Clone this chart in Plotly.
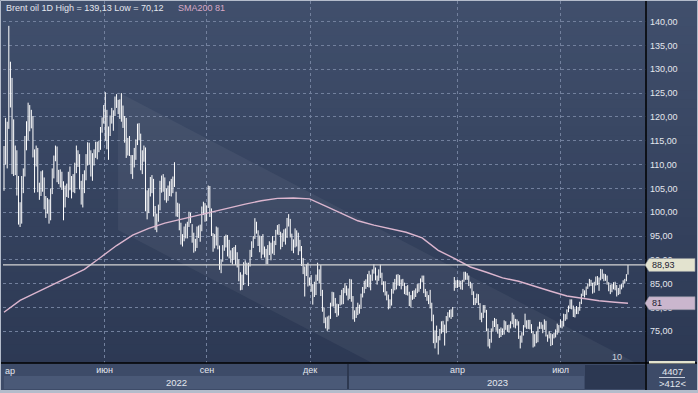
import plotly.graph_objects as go

# ---------------- data (daily bars, Mar 2 2022 .. Sep 1 2023) ----------------
bar_high = [
    # 2022-03
    113.9, 119.8, 119.0, 139.13, 131.6, 128.2, 119.5, 114.0, 113.0, 107.6, 102.1, 107.6, 109.2, 116.0, 119.1, 123.0, 122.5, 121.5, 120.2, 113.2, 114.0, 113.5,
    # 2022-04
    106.2, 108.6, 108.8, 107.3, 103.4, 103.0, 102.7, 105.0, 109.2, 111.9, 114.0, 113.8, 108.9, 109.0, 108.5, 106.5, 105.6, 106.0, 108.5, 109.6,
    # 2022-05
    107.6, 108.0, 110.4, 114.0, 113.0, 112.2, 106.6, 108.0, 108.8, 112.2, 114.7, 114.6, 113.0, 112.4, 113.2, 114.8, 114.8, 115.0, 117.9, 119.9, 122.5, 125.2,
    # 2022-06
    121.5, 118.0, 120.3, 121.9, 121.4, 124.3, 124.8, 123.6, 123.7, 125.0, 122.4, 120.2, 119.8, 115.6, 116.0, 112.0, 112.0, 113.5, 115.3, 118.6, 118.7, 116.5,
    # 2022-07
    113.0, 114.0, 113.6, 104.6, 105.0, 107.4, 107.8, 107.0, 101.3, 99.7, 101.6, 106.6, 107.7, 108.0, 107.3, 105.0, 105.6, 106.5, 107.0, 107.5, 110.5,
    # 2022-08
    104.3, 102.0, 101.8, 97.8, 95.4, 97.0, 97.6, 98.0, 100.1, 99.9, 97.5, 95.7, 94.4, 97.0, 97.2, 97.4, 101.2, 102.2, 101.9, 101.4, 105.6, 105.5, 100.8,
    # 2022-09
    95.6, 95.4, 97.0, 96.8, 93.0, 90.0, 93.1, 95.0, 95.3, 95.2, 94.2, 92.0, 92.5, 92.7, 93.1, 91.6, 90.1, 87.4, 86.9, 89.5, 89.9, 89.4,
    # 2022-10
    89.4, 92.1, 93.9, 95.0, 98.75, 98.0, 96.2, 95.1, 95.0, 95.4, 92.8, 92.3, 93.1, 93.9, 93.6, 95.0, 94.0, 96.3, 97.3, 97.5, 95.9,
    # 2022-11
    95.6, 96.4, 96.6, 98.8, 99.6, 98.6, 95.5, 94.3, 96.6, 96.2, 95.7, 94.2, 92.9, 90.4, 88.6, 89.1, 89.4, 86.3, 86.8, 84.9, 85.4, 86.9,
    # 2022-12
    89.4, 88.0, 88.9, 83.7, 80.0, 77.9, 78.1, 78.3, 81.0, 83.3, 83.2, 82.0, 80.8, 80.7, 82.6, 83.7, 84.1, 85.1, 84.6, 84.0, 86.0,
    # 2023-01
    85.9, 82.4, 79.4, 80.1, 81.0, 80.6, 82.9, 84.3, 85.6, 85.9, 87.0, 87.7, 86.9, 88.0, 89.1, 88.4, 86.7, 88.0, 89.0, 87.3, 85.5,
    # 2023-02
    85.5, 83.4, 82.7, 81.7, 83.9, 85.3, 86.0, 86.9, 87.0, 86.8, 85.9, 86.0, 85.2, 84.5, 84.7, 83.3, 82.6, 83.5, 83.6, 84.0,
    # 2023-03
    84.9, 85.0, 86.1, 86.7, 86.7, 83.9, 83.4, 82.6, 83.7, 81.0, 78.5, 75.2, 76.2, 74.0, 75.5, 77.1, 77.2, 76.4, 78.2, 79.0, 79.5, 79.6, 80.1,
    # 2023-04
    86.4, 85.7, 85.8, 85.7, 85.6, 85.8, 87.5, 87.5, 87.2, 86.7, 85.4, 85.0, 83.4, 82.0, 82.9, 82.8, 80.9, 78.9, 80.5,
    # 2023-05
    80.5, 79.5, 75.6, 73.4, 75.6, 77.2, 77.8, 77.6, 76.5, 75.5, 75.8, 75.6, 77.3, 77.1, 76.3, 76.4, 77.1, 78.9, 78.5, 77.6, 77.5, 77.1, 74.1,
    # 2023-06
    74.8, 76.3, 78.7, 77.3, 77.4, 77.4, 76.5, 75.0, 74.4, 75.0, 76.0, 77.0, 76.9, 76.4, 77.5, 77.2, 74.3, 75.0, 74.6, 74.4, 74.7, 75.4,
    # 2023-07
    76.6, 76.3, 77.5, 77.2, 78.7, 78.6, 79.6, 80.4, 81.7, 81.7, 80.4, 79.8, 80.3, 80.1, 81.2, 82.9, 83.9, 83.6, 84.4, 85.0, 86.0,
    # 2023-08 + Sep 1
    85.8, 85.2, 85.4, 86.5, 86.6, 86.3, 88.1, 88.0, 87.1, 87.0, 86.7, 85.3, 84.8, 84.9, 85.3, 85.4, 84.7, 84.1, 84.8, 84.9, 85.7, 86.0, 87.0, 88.93,
]
bar_low = [
    # 2022-03
    104.5, 110.0, 109.2, 117.5, 122.0, 108.0, 107.6, 107.8, 103.5, 97.4, 96.9, 97.6, 104.0, 107.5, 113.0, 115.1, 117.0, 117.6, 111.5, 104.1, 109.6, 104.2,
    # 2022-04
    102.6, 103.4, 104.3, 100.6, 98.8, 99.7, 97.6, 98.3, 103.8, 107.1, 110.7, 106.3, 105.9, 105.2, 104.7, 98.3, 101.0, 103.2, 103.0, 104.6,
    # 2022-05
    102.9, 104.2, 104.0, 108.2, 109.5, 104.8, 101.6, 101.0, 104.0, 106.7, 109.8, 110.0, 107.5, 106.6, 109.8, 111.4, 111.1, 112.6, 113.1, 116.7, 118.6, 115.0,
    # 2022-06
    113.2, 111.0, 116.0, 118.6, 117.1, 120.2, 121.9, 120.6, 119.6, 119.0, 117.7, 114.6, 111.4, 111.9, 111.8, 108.0, 107.0, 109.4, 111.0, 114.1, 115.1, 108.8,
    # 2022-07
    108.0, 110.6, 100.2, 98.5, 99.8, 103.3, 104.0, 99.1, 96.3, 95.8, 98.0, 100.4, 104.1, 104.3, 102.5, 102.0, 102.4, 103.4, 103.3, 104.0, 105.3,
    # 2022-08
    99.1, 99.0, 96.2, 93.2, 92.8, 93.9, 94.5, 94.5, 96.9, 97.7, 93.6, 91.5, 91.8, 92.5, 94.6, 93.8, 96.0, 99.4, 98.0, 98.1, 100.9, 99.0, 95.0,
    # 2022-09
    91.7, 92.4, 93.0, 92.2, 87.9, 87.2, 89.6, 91.9, 92.6, 90.7, 90.3, 89.4, 89.0, 90.0, 88.9, 88.4, 85.5, 83.6, 83.7, 84.7, 87.0, 86.8,
    # 2022-10
    84.5, 88.6, 90.6, 92.5, 94.4, 95.5, 92.9, 91.6, 90.3, 91.1, 90.5, 89.1, 89.1, 91.0, 89.9, 91.3, 91.0, 93.1, 95.3, 95.2, 92.2,
    # 2022-11
    92.7, 93.8, 93.2, 94.6, 97.0, 94.7, 91.9, 91.4, 92.6, 92.8, 91.0, 91.8, 88.7, 87.0, 82.3, 86.6, 84.4, 84.6, 83.3, 80.6, 82.2, 82.6,
    # 2022-12
    85.6, 85.0, 82.4, 79.1, 76.7, 75.6, 75.1, 75.4, 77.6, 80.2, 80.2, 78.8, 78.0, 78.3, 80.4, 80.6, 80.7, 83.0, 82.5, 81.5, 81.8,
    # 2023-01
    81.2, 77.5, 77.0, 77.8, 78.4, 78.7, 79.7, 82.1, 83.0, 83.9, 84.3, 84.2, 83.6, 85.6, 87.1, 85.7, 84.8, 85.6, 86.2, 84.7, 83.2,
    # 2023-02
    82.5, 81.5, 79.6, 79.8, 80.4, 82.9, 83.6, 83.8, 84.6, 84.5, 83.8, 84.5, 82.8, 82.6, 82.5, 80.3, 80.0, 81.6, 81.8, 82.2,
    # 2023-03
    83.0, 83.3, 83.9, 85.3, 83.0, 82.2, 81.4, 80.7, 79.8, 77.1, 72.5, 71.4, 72.6, 70.12, 73.1, 74.5, 74.8, 72.0, 74.6, 77.1, 77.9, 77.6, 78.0,
    # 2023-04
    83.5, 84.1, 84.1, 84.3, 83.8, 83.7, 85.4, 85.8, 85.8, 84.5, 84.0, 82.6, 80.5, 80.5, 80.9, 80.5, 77.4, 76.9, 77.8,
    # 2023-05
    78.9, 75.0, 71.8, 71.4, 72.6, 74.9, 75.9, 75.1, 74.5, 73.6, 73.8, 74.2, 74.3, 75.3, 74.9, 74.7, 75.6, 76.5, 75.8, 75.6, 76.2, 73.4, 71.4,
    # 2023-06
    72.6, 74.1, 75.8, 75.5, 75.5, 75.4, 74.6, 71.6, 71.8, 72.5, 72.7, 75.5, 75.5, 74.6, 75.3, 73.9, 72.8, 73.5, 71.9, 72.1, 73.5, 73.7,
    # 2023-07
    74.3, 74.7, 75.8, 75.6, 76.0, 77.2, 77.5, 79.0, 79.7, 79.6, 78.0, 77.9, 78.6, 78.6, 79.3, 80.7, 82.4, 82.1, 82.6, 83.9, 84.4,
    # 2023-08 + Sep 1
    84.5, 82.9, 83.1, 84.6, 84.7, 83.5, 85.7, 86.0, 85.5, 85.6, 84.8, 83.4, 82.8, 83.2, 83.8, 83.6, 82.3, 82.6, 82.8, 83.8, 84.2, 85.0, 85.5, 86.9,
]

# SMA200 (bar index, value)
sma_idx = [0, 10, 20, 30, 40, 50, 60, 70, 80, 90, 100, 110, 120, 130, 140, 150, 160, 170, 180, 190,
           200, 210, 220, 230, 240, 250, 260, 270, 280, 290, 300, 310, 320, 330, 340, 350, 360, 370, 380, 388]
sma_val = [79.0, 81.5, 83.1, 84.7, 86.4, 88.0, 90.5, 93.0, 95.2, 96.6, 97.7, 98.5, 99.3, 100.1, 101.0, 101.7, 102.4, 102.9, 103.0, 102.8,
           101.3, 99.7, 98.2, 97.3, 96.6, 95.8, 94.6, 92.0, 90.3, 88.5, 87.4, 86.2, 85.5, 84.4, 83.4, 82.4, 81.9, 81.4, 81.1, 80.9]

# axis ticks
month_labels = ["июн", "сен", "дек", "апр", "июл"]
month_pos = [62.5, 126.2, 190.3, 282.0, 346.1]
year_labels = ["2022", "2023"]
year_pos = [107.0, 306.6]
price_ticks = [75, 80, 85, 90, 95, 100, 105, 110, 115, 120, 125, 130, 135, 140]

# descending channel drawn on the chart
channel_x = [70.9, 399.2]
channel_top_start = 125.24
channel_slope = -0.1767
channel_height = 28.97
channel_label = "10"

counter_top, counter_bottom = "4407", ">412<"

# ---------------- layout geometry ----------------
W, H = 698, 393
ML, MR, MT, MB = 3, 52, 1, 30
PW, PH = W - ML - MR, H - MT - MB
X_RANGE = [-0.62, 399.2]
Y_RANGE = [68.34, 144.35]


def px(xp):
    return (xp - ML) / PW


def py(yp):
    return (H - MB - yp) / PH


def vy(v):
    return (v - Y_RANGE[0]) / (Y_RANGE[1] - Y_RANGE[0])


def fmt(v):
    return f"{v:.2f}".replace(".", ",")


FONT = "Liberation Sans, Arial, sans-serif"
TXT = "#e4e7ee"

fig = go.Figure()

# price bars (high-low)
xs, ys = [], []
for i, (h, l) in enumerate(zip(bar_high, bar_low)):
    xs += [i, i, None]
    ys += [l, h, None]
fig.add_trace(go.Scatter(x=xs, y=ys, mode="lines", line=dict(color="#ffffff", width=1.0),
                         hoverinfo="skip", showlegend=False))

# SMA200
fig.add_trace(go.Scatter(x=sma_idx, y=sma_val, mode="lines", line=dict(color="#dcb6cf", width=1.4),
                         hoverinfo="skip", showlegend=False))

shapes = []
# background gradient
n = 40
top_c = (64, 79, 108)
bot_c = (45, 57, 84)
for k in range(n):
    t = k / (n - 1)
    c = tuple(round(top_c[j] + (bot_c[j] - top_c[j]) * t) for j in range(3))
    y1 = 1.005 - k * (1.005 / n)
    y0 = y1 - 1.005 / n - 0.002
    shapes.append(dict(type="rect", xref="paper", yref="paper", x0=px(0), x1=px(W), y0=max(y0, 0), y1=y1,
                       fillcolor=f"rgb{c}", line=dict(width=0), layer="below"))

# bottom axis bands
shapes.append(dict(type="rect", xref="paper", yref="paper", x0=px(4), x1=px(347), y0=py(389), y1=py(376),
                   fillcolor="#4a5977", line=dict(width=0), layer="below"))
shapes.append(dict(type="rect", xref="paper", yref="paper", x0=px(349), x1=px(584), y0=py(389), y1=py(376),
                   fillcolor="#4a5977", line=dict(width=0), layer="below"))
shapes.append(dict(type="rect", xref="paper", yref="paper", x0=px(585), x1=px(645), y0=py(389), y1=py(365),
                   fillcolor="#2c3852", line=dict(width=0), layer="below"))

# channel
cx0, cx1 = channel_x
t0 = channel_top_start
t1 = channel_top_start + channel_slope * (cx1 - cx0)
shapes.append(dict(type="path", xref="x", yref="y",
                   path=f"M {cx0},{t0} L {cx1},{t1} L {cx1},{t1 - channel_height} L {cx0},{t0 - channel_height} Z",
                   fillcolor="rgba(255,255,255,0.05)", line=dict(width=0), layer="between"))

# last price line
last_price = bar_high[-1]
shapes.append(dict(type="line", xref="paper", yref="y", x0=0, x1=1, y0=last_price, y1=last_price,
                   line=dict(color="#d6d6d6", width=1.3), layer="above"))

# frame lines
shapes.append(dict(type="line", xref="paper", yref="paper", x0=1, x1=1, y0=py(H), y1=py(0),
                   line=dict(color="#000000", width=1.5), layer="above"))
shapes.append(dict(type="line", xref="paper", yref="paper", x0=px(0), x1=px(W), y0=0, y1=0,
                   line=dict(color="#000000", width=1.5), layer="above"))
shapes.append(dict(type="line", xref="paper", yref="paper", x0=px(348), x1=px(348), y0=py(364), y1=py(389),
                   line=dict(color="#1e2638", width=1), layer="above"))
# outer border
shapes.append(dict(type="rect", xref="paper", yref="paper", x0=px(0.5), x1=px(W - 0.5), y0=py(H - 0.5), y1=py(0.5),
                   line=dict(color="#b4bccb", width=1), layer="above"))
shapes.append(dict(type="rect", xref="paper", yref="paper", x0=px(0), x1=px(W), y0=py(H), y1=py(390),
                   fillcolor="#b4bccb", line=dict(width=0), layer="above"))

# counter separator
shapes.append(dict(type="line", xref="paper", yref="paper", x0=px(659), x1=px(685), y0=py(377.5), y1=py(377.5),
                   line=dict(color="#c9cfdb", width=1), layer="above"))


def tag(value, fill):
    c = vy(value)
    hh = 6.5 / PH
    return dict(type="path", xref="paper", yref="paper",
                path=(f"M {px(645)},{c} L {px(649)},{c + hh} L {px(695)},{c + hh} "
                      f"L {px(695)},{c - hh} L {px(649)},{c - hh} Z"),
                fillcolor=fill, line=dict(color="#8a8f9a", width=0.6), layer="above")


sma_last = sma_val[-1]
shapes.append(tag(last_price, "#e3e3cf"))
shapes.append(tag(sma_last, "#cab6cd"))
# partially visible tag at the bottom of the price scale
shapes.append(dict(type="rect", xref="paper", yref="paper", x0=px(649), x1=px(695), y0=py(363.5), y1=py(361),
                   fillcolor="#e3e3cf", line=dict(width=0), layer="above"))

annotations = []
annotations.append(dict(xref="paper", yref="paper", x=px(4), y=py(8.5), xanchor="left", yanchor="middle",
                        showarrow=False, font=dict(family=FONT, size=9, color=TXT),
                        text=f"Brent oil 1D High = {fmt(max(bar_high))} Low = {fmt(min(bar_low))}"))
annotations.append(dict(xref="paper", yref="paper", x=px(176), y=py(8.5), xanchor="left", yanchor="middle",
                        showarrow=False, font=dict(family=FONT, size=9, color="#d8a9c6"),
                        text=f"SMA200 {round(sma_last)}"))
# tag texts
annotations.append(dict(xref="paper", yref="y", x=px(650), y=last_price, xanchor="left", yanchor="middle",
                        showarrow=False, font=dict(family=FONT, size=9, color="#1c2030"),
                        text=fmt(last_price)))
annotations.append(dict(xref="paper", yref="y", x=px(650), y=sma_last, xanchor="left", yanchor="middle",
                        showarrow=False, font=dict(family=FONT, size=9, color="#1c2030"),
                        text=f"{round(sma_last)}"))
# channel label
annotations.append(dict(xref="x", yref="y", x=381.2, y=69.6, xanchor="center", yanchor="middle",
                        showarrow=False, font=dict(family=FONT, size=9, color="#cfd3dc"),
                        text=channel_label))
# years
for lab, pos in zip(year_labels, year_pos):
    annotations.append(dict(xref="x", yref="paper", x=pos, y=py(382), xanchor="center", yanchor="middle",
                            showarrow=False, font=dict(family=FONT, size=9.5, color=TXT),
                            text=lab))
# truncated first month label
annotations.append(dict(xref="paper", yref="paper", x=px(3), y=py(371), xanchor="left", yanchor="middle",
                        showarrow=False, font=dict(family=FONT, size=9, color=TXT),
                        text="ар"))
# counters
annotations.append(dict(xref="paper", yref="paper", x=px(672), y=py(371), xanchor="center", yanchor="middle",
                        showarrow=False, font=dict(family=FONT, size=9.5, color=TXT),
                        text=counter_top))
annotations.append(dict(xref="paper", yref="paper", x=px(672), y=py(383.5), xanchor="center", yanchor="middle",
                        showarrow=False, font=dict(family=FONT, size=9.5, color=TXT),
                        text=counter_bottom))

fig.update_layout(
    width=W, height=H,
    margin=dict(l=ML, r=MR, t=MT, b=MB, pad=0, autoexpand=False),
    paper_bgcolor="#3d4b68",
    plot_bgcolor="rgba(0,0,0,0)",
    separators=", ",
    showlegend=False,
    shapes=shapes,
    annotations=annotations,
    xaxis=dict(range=X_RANGE, tickmode="array", tickvals=month_pos, ticktext=month_labels,
               showgrid=True, gridcolor="#72809d", griddash="dot", gridwidth=1, automargin=False,
               zeroline=False, showline=False, ticks="", ticklen=0,
               tickfont=dict(family=FONT, size=9, color=TXT)),
    yaxis=dict(range=Y_RANGE, side="right", tickmode="array", tickvals=price_ticks, tickformat=".2f",
               showgrid=True, gridcolor="#72809d", griddash="dot", gridwidth=1, automargin=False,
               zeroline=False, showline=False, ticks="", ticklen=0, ticklabelstandoff=3,
               tickfont=dict(family=FONT, size=9, color=TXT)),
)

fig.write_html(
    "out.html",
    config={"displayModeBar": False, "staticPlot": True},
    post_script="document.body.style.margin='0';document.body.style.overflow='hidden';",
)
